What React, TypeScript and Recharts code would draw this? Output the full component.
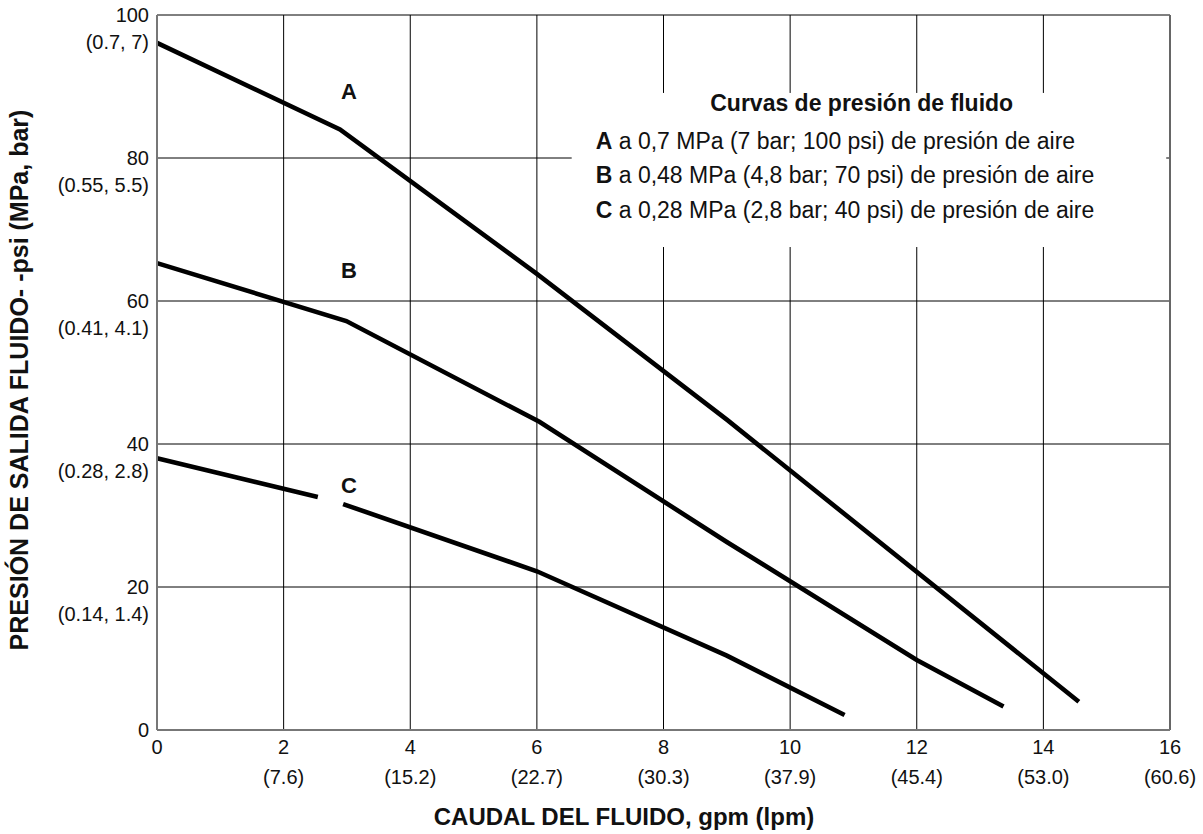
import React from 'react';
import {
  LineChart,
  Line,
  XAxis,
  YAxis,
  CartesianGrid,
  ReferenceArea,
  ReferenceDot,
  ReferenceLine,
} from 'recharts';

// ---- data ----
const xTicks = [0, 2, 4, 6, 8, 10, 12, 14, 16];
const xSubLabels = ['', '(7.6)', '(15.2)', '(22.7)', '(30.3)', '(37.9)', '(45.4)', '(53.0)', '(60.6)'];
const yTicks = [0, 20, 40, 60, 80, 100];
const ySubLabels = ['', '(0.14, 1.4)', '(0.28, 2.8)', '(0.41, 4.1)', '(0.55, 5.5)', '(0.7, 7)'];

const curveAx = [0, 2.89, 6, 9, 14.56];
const curveAy = [96.1, 84, 63.8, 43.4, 3.95];
const curveBx = [0, 2.99, 6.04, 9, 12, 13.37];
const curveBy = [65.3, 57.2, 43.1, 26.3, 9.8, 3.3];
const curveCx = [0, 2.54, 2.74, 2.94, 6, 9, 10.86];
const curveCy: (number | null)[] = [38.0, 32.6, null, 31.6, 22.2, 10.4, 2.1];

const curveLabels = [
  { name: 'A', x: 3.03, y: 89.4 },
  { name: 'B', x: 3.03, y: 64.3 },
  { name: 'C', x: 3.03, y: 34.3 },
];

const legendTitle = 'Curvas de presión de fluido';
const legendKeys = ['A', 'B', 'C'];
const legendTexts = [
  ' a 0,7 MPa (7 bar; 100 psi) de presión de aire',
  ' a 0,48 MPa (4,8 bar; 70 psi) de presión de aire',
  ' a 0,28 MPa (2,8 bar; 40 psi) de presión de aire',
];
const legendBox = { x1: 6.55, x2: 15.94, y1: 67.55, y2: 89.1 };

const xTitle = 'CAUDAL DEL FLUIDO, gpm (lpm)';
const yTitle = 'PRESIÓN DE SALIDA FLUIDO- -psi (MPa, bar)';

const zip = (xs: number[], ys: (number | null)[]) => xs.map((x, i) => ({ x, y: ys[i] }));
const dataA = zip(curveAx, curveAy);
const dataB = zip(curveBx, curveBy);
const dataC = zip(curveCx, curveCy);

const FONT = '"Liberation Sans", Arial, Helvetica, sans-serif';

const YTick = (props: any) => {
  const { x, y, payload } = props;
  const idx = yTicks.indexOf(payload.value);
  const sub = ySubLabels[idx];
  return (
    <g>
      <text x={x} y={y + 7} textAnchor="end" fontSize={20} fontFamily={FONT} fill="#111">
        {payload.value}
      </text>
      {sub ? (
        <text x={x} y={y + 34} textAnchor="end" fontSize={20} fontFamily={FONT} fill="#111">
          {sub}
        </text>
      ) : null}
    </g>
  );
};

const XTick = (props: any) => {
  const { x, y, payload } = props;
  const idx = xTicks.indexOf(payload.value);
  const sub = xSubLabels[idx];
  return (
    <g>
      <text x={x} y={y + 16} textAnchor="middle" fontSize={20} fontFamily={FONT} fill="#111">
        {payload.value}
      </text>
      {sub ? (
        <text x={x} y={y + 46} textAnchor="middle" fontSize={20} fontFamily={FONT} fill="#111">
          {sub}
        </text>
      ) : null}
    </g>
  );
};

const LegendShape = (p: any) => {
  const { x, y, width, height } = p;
  return (
    <g>
      <rect x={x} y={y} width={width} height={height} fill="#fff" stroke="none" />
      <text
        x={x + 290}
        y={y + 18}
        textAnchor="middle"
        fontSize={23}
        fontWeight="bold"
        fontFamily={FONT}
        fill="#111"
      >
        {legendTitle}
      </text>
      {legendKeys.map((k, i) => (
        <text key={k} x={x + 24} y={y + 56 + i * 34.5} fontSize={23} fontFamily={FONT} fill="#111">
          <tspan fontWeight="bold">{k}</tspan>
          <tspan>{legendTexts[i]}</tspan>
        </text>
      ))}
    </g>
  );
};

export default function App() {
  return (
    <div style={{ position: 'absolute', left: 0, top: 0, width: 1203, height: 834, background: '#fff' }}>
      <LineChart width={1203} height={834} margin={{ top: 15, right: 33, left: 0, bottom: 0 }}>
        <CartesianGrid stroke="#000" strokeWidth={1} />
        <XAxis
          dataKey="x"
          type="number"
          domain={[0, 16]}
          ticks={xTicks}
          height={104}
          tickLine={false}
          axisLine={{ stroke: '#777', strokeWidth: 2 }}
          tick={<XTick />}
          allowDuplicatedCategory={false}
        />
        <YAxis
          type="number"
          domain={[0, 100]}
          ticks={yTicks}
          width={157}
          tickLine={false}
          axisLine={{ stroke: '#777', strokeWidth: 2 }}
          tick={<YTick />}
        />
        <ReferenceLine x={16} stroke="#666" strokeWidth={2} />
        <ReferenceArea
          x1={legendBox.x1}
          x2={legendBox.x2}
          y1={legendBox.y1}
          y2={legendBox.y2}
          ifOverflow="visible"
          shape={<LegendShape />}
        />
        <Line
          data={dataA}
          dataKey="y"
          type="linear"
          stroke="#000"
          strokeWidth={4.6}
          dot={false}
          activeDot={false}
          isAnimationActive={false}
        />
        <Line
          data={dataB}
          dataKey="y"
          type="linear"
          stroke="#000"
          strokeWidth={4.6}
          dot={false}
          activeDot={false}
          isAnimationActive={false}
        />
        <Line
          data={dataC}
          dataKey="y"
          type="linear"
          stroke="#000"
          strokeWidth={4.6}
          dot={false}
          activeDot={false}
          connectNulls={false}
          isAnimationActive={false}
        />
        {curveLabels.map((l) => (
          <ReferenceDot
            key={l.name}
            x={l.x}
            y={l.y}
            r={0}
            ifOverflow="visible"
            shape={(p: any) => (
              <text
                x={p.cx}
                y={p.cy + 8}
                textAnchor="middle"
                fontSize={22}
                fontWeight="bold"
                fontFamily={FONT}
                fill="#111"
              >
                {l.name}
              </text>
            )}
          />
        ))}
        <text
          x={624}
          y={825}
          textAnchor="middle"
          fontSize={24}
          fontWeight="bold"
          fontFamily={FONT}
          fill="#111"
        >
          {xTitle}
        </text>
        <text
          x={28}
          y={380}
          transform="rotate(-90 28 380)"
          textAnchor="middle"
          fontSize={25}
          fontWeight="bold"
          fontFamily={FONT}
          fill="#111"
        >
          {yTitle}
        </text>
      </LineChart>
    </div>
  );
}
